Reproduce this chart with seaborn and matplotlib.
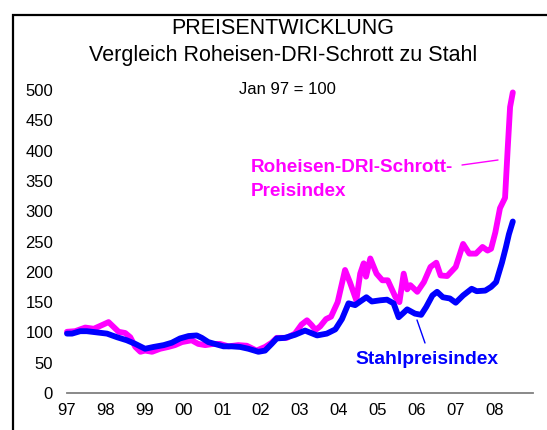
import numpy as np
import pandas as pd
import matplotlib
matplotlib.use("Agg")
import matplotlib.pyplot as plt
from matplotlib.lines import Line2D
from matplotlib.patches import Rectangle
import seaborn as sns

# ---- data (decimal year, index Jan 97 = 100) ----
pink_years = [1997.00, 1997.21, 1997.47, 1997.69, 1997.90, 1998.07, 1998.20, 1998.33,
              1998.50, 1998.63, 1998.76, 1998.89, 1999.01, 1999.19, 1999.40, 1999.61,
              1999.78, 1999.96, 2000.21, 2000.38, 2000.56, 2000.77, 2000.94, 2001.16,
              2001.41, 2001.63, 2001.88, 2002.10, 2002.27, 2002.40, 2002.66, 2002.87,
              2003.04, 2003.18, 2003.30, 2003.40, 2003.52, 2003.67, 2003.80, 2003.97,
              2004.16, 2004.29, 2004.45, 2004.55, 2004.64, 2004.70, 2004.81, 2004.97,
              2005.12, 2005.26, 2005.36, 2005.46, 2005.56, 2005.67, 2005.76, 2005.84,
              2006.02, 2006.19, 2006.36, 2006.51, 2006.62, 2006.79, 2007.01, 2007.20,
              2007.36, 2007.53, 2007.70, 2007.83, 2007.92, 2008.03, 2008.15, 2008.28,
              2008.35, 2008.41, 2008.48]
pink_values = [101, 102, 108, 106, 112, 117, 109, 101,
               99, 92, 76, 68, 70, 68, 73, 76,
               79, 84, 87, 81, 79, 81, 81, 77,
               79, 78, 70, 76, 83, 91, 91, 98,
               113, 120, 112, 104, 110, 122, 126, 150,
               203, 182, 153, 197, 214, 192, 222, 197,
               186, 186, 172, 158, 150, 197, 171, 178,
               167, 183, 208, 215, 194, 193, 208, 246,
               230, 230, 241, 235, 238, 265, 305, 322,
               405, 472, 496]

blue_years = [1997.00, 1997.13, 1997.34, 1997.51, 1997.77, 1998.03, 1998.29, 1998.54,
              1998.76, 1999.01, 1999.23, 1999.49, 1999.70, 1999.91, 2000.13, 2000.34,
              2000.47, 2000.64, 2000.86, 2001.03, 2001.24, 2001.46, 2001.67, 2001.93,
              2002.10, 2002.27, 2002.40, 2002.61, 2002.87, 2003.13, 2003.44, 2003.69,
              2003.91, 2004.08, 2004.25, 2004.42, 2004.55, 2004.71, 2004.85, 2005.07,
              2005.24, 2005.41, 2005.54, 2005.66, 2005.76, 2005.96, 2006.12, 2006.25,
              2006.41, 2006.53, 2006.68, 2006.86, 2007.01, 2007.20, 2007.42, 2007.55,
              2007.77, 2007.92, 2008.05, 2008.20, 2008.30, 2008.38, 2008.48]
blue_values = [98, 98, 102, 102, 100, 98, 92, 87,
               81, 73, 76, 79, 83, 90, 94, 95,
               91, 84, 80, 77, 77, 76, 73, 68,
               70, 81, 90, 91, 96, 103, 95, 98,
               105, 122, 148, 145, 151, 158, 151, 153,
               154, 148, 125, 132, 138, 131, 129, 142,
               161, 167, 158, 156, 149, 161, 172, 168,
               169, 175, 183, 215, 240, 262, 283]

series_names = ["Roheisen-DRI-Schrott-Preisindex", "Stahlpreisindex"]
series_colors = ["#FF00FF", "#0000FF"]
year_ticks = list(range(1997, 2009))
year_labels = ["97", "98", "99", "00", "01", "02", "03", "04", "05", "06", "07", "08"]
y_ticks = list(range(0, 501, 50))

df = pd.concat([
    pd.DataFrame({"year": pink_years, "value": pink_values, "series": series_names[0]}),
    pd.DataFrame({"year": blue_years, "value": blue_values, "series": series_names[1]}),
], ignore_index=True)

sns.set_theme(style="white")
plt.rcParams["font.family"] = ["Liberation Sans", "DejaVu Sans"]

W, H = 547, 430
fig = plt.figure(figsize=(W / 100, H / 100), dpi=100)
fig.patch.set_facecolor("white")

def fx(px):
    return px / W

def fy(py):
    return 1 - py / H

ax = fig.add_axes([fx(67), fy(393), fx(533) - fx(67), fy(90) - fy(393)])
ax.set_facecolor("white")

sns.lineplot(data=df, x="year", y="value", hue="series", hue_order=series_names,
             palette=dict(zip(series_names, series_colors)), estimator=None,
             sort=False, linewidth=4.2, ax=ax, legend=False)
for ln in ax.lines:
    ln.set_solid_capstyle("round")
    ln.set_solid_joinstyle("round")
    ln.set_clip_on(False)

ax.set_xlim(1997, 2009)
ax.set_ylim(0, 500)
ax.set_xticks(year_ticks)
ax.set_xticklabels(year_labels)
ax.set_yticks(y_ticks)
ax.set_yticklabels([str(v) for v in y_ticks])
ax.set_xlabel("")
ax.set_ylabel("")
ax.tick_params(axis="x", length=0, pad=7, labelsize=12, colors="black")
ax.tick_params(axis="y", length=0, pad=10, labelsize=12, colors="black")
for s in ["top", "right", "left"]:
    ax.spines[s].set_visible(False)
ax.spines["bottom"].set_color("#808080")
ax.spines["bottom"].set_linewidth(1.3)
ax.grid(False)

# titles and notes
fig.text(fx(283), fy(28), "PREISENTWICKLUNG", ha="center", va="center", fontsize=15.5, color="black")
fig.text(fx(283), fy(55), "Vergleich Roheisen-DRI-Schrott zu Stahl", ha="center", va="center",
         fontsize=15.5, color="black")
fig.text(fx(287), fy(90), "Jan 97 = 100", ha="center", va="center", fontsize=12, color="black")

# series labels
fig.text(fx(251), fy(168), "Roheisen-DRI-Schrott-", ha="left", va="center", fontsize=13.6,
         fontweight="bold", color=series_colors[0])
fig.text(fx(251), fy(192), "Preisindex", ha="left", va="center", fontsize=13.6,
         fontweight="bold", color=series_colors[0])
fig.text(fx(355), fy(360), "Stahlpreisindex", ha="left", va="center", fontsize=13.9,
         fontweight="bold", color=series_colors[1])

# pointer lines
fig.add_artist(Line2D([fx(462), fx(498)], [fy(165), fy(160)], color=series_colors[0],
                      linewidth=1.0, transform=fig.transFigure))
fig.add_artist(Line2D([fx(417), fx(425)], [fy(320), fy(343)], color=series_colors[1],
                      linewidth=1.0, transform=fig.transFigure))

# outer frame (clipped at right and bottom like the reference)
fig.add_artist(Rectangle((fx(12.5), -0.2), 1.2, fy(14.5) + 0.2, fill=False,
                         edgecolor="black", linewidth=1.6, transform=fig.transFigure))

fig.savefig("out.png", dpi=100)
